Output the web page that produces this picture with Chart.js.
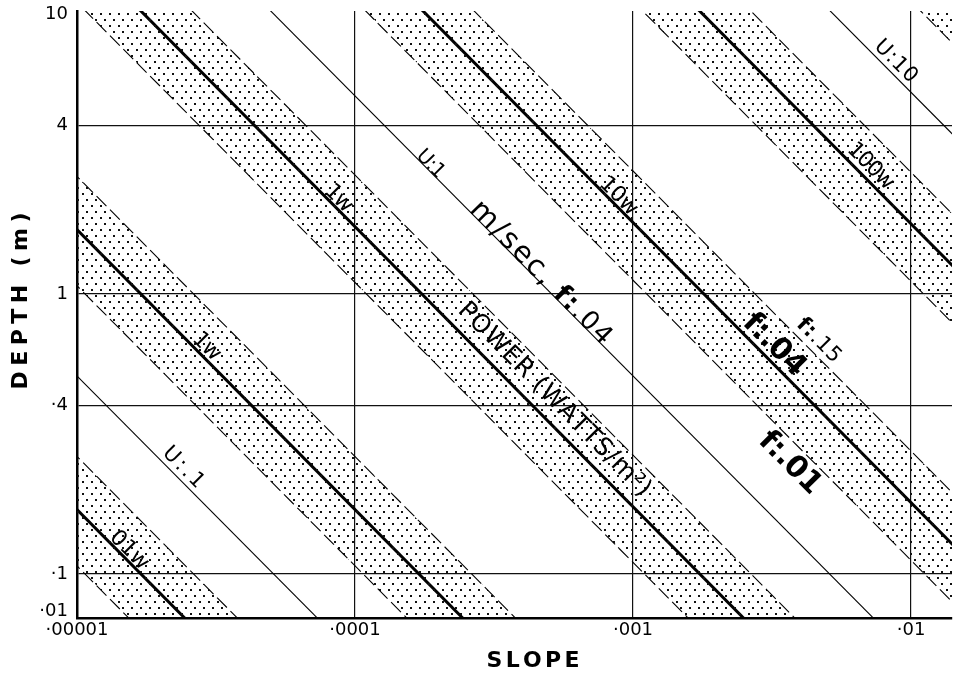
<!DOCTYPE html>
<html>
<head>
<meta charset="utf-8">
<script src="https://cdn.jsdelivr.net/npm/chart.js@4.4.0/dist/chart.umd.min.js"></script>
<style>
html,body{margin:0;padding:0;background:#fff;}
#wrap{width:964px;height:689px;position:relative;}
</style>
</head>
<body>
<div id="wrap"><canvas id="c" width="964" height="689"></canvas></div>
<script>
// ---------- axis ranges and ticks ----------
const xRange = [0.00001, 0.01404];
const yRange = [0.0697, 10.25];
const xTickValues = [0.00001, 0.0001, 0.001, 0.01];
const xTickLabels = ['·00001', '·0001', '·001', '·01'];
const yTickValues = [10, 4, 1, 0.4, 0.1, 0.0738];
const yTickLabels = ['10', '4', '1', '·4', '·1', '·01'];

// ---------- iso-lines: depth × slope (= slope where the line meets depth 1 m) ----------
const powerNames = ['01w', '1w', '1w', '10w', '100w', ''];
const powerF04 = [1.70e-6, 1.70e-5, 1.74e-4, 1.80e-3, 1.78e-2, 0.178];  // thick lines, f = .04
const powerF01 = [1.07e-6, 1.07e-5, 1.10e-4, 1.12e-3, 1.11e-2, 0.111];  // dashed band edge, f = .01
const powerF15 = [2.63e-6, 2.63e-5, 2.66e-4, 2.75e-3, 2.72e-2, 0.275];  // dashed band edge, f = .15
const velocityNames = ['U:.1', 'U:1', 'U:10'];
const velocityF04 = [5.1e-6, 5.1e-4, 5.25e-2];                          // thin lines, m/sec
const lineSlopeEnds = [1e-7, 1];

// ---------- stipple pattern ----------
function makeStipple() {
  const c = document.createElement('canvas');
  c.width = 9; c.height = 12;
  const g = c.getContext('2d');
  g.fillStyle = '#111';
  g.fillRect(1, 1, 2, 2);
  g.fillRect(5, 7, 2, 2);
  return g.createPattern(c, 'repeat');
}
const stipple = makeStipple();

function lineData(k) { return lineSlopeEnds.map(s => ({x: s, y: k / s})); }

const datasets = [];
powerF01.forEach((k, i) => {
  datasets.push({label: 'f=.01 #' + i, data: lineData(k), borderColor: '#000', borderWidth: 1.1,
    borderDash: [14, 5], pointRadius: 0, fill: false});
  datasets.push({label: 'f=.15 #' + i, data: lineData(powerF15[i]), borderColor: '#000', borderWidth: 1.1,
    borderDash: [14, 5], pointRadius: 0, fill: '-1', backgroundColor: stipple});
});
powerF04.forEach((k, i) => {
  datasets.push({label: 'power ' + powerNames[i], data: lineData(k), borderColor: '#000', borderWidth: 3,
    pointRadius: 0, fill: false});
});
velocityF04.forEach((k, i) => {
  datasets.push({label: velocityNames[i], data: lineData(k), borderColor: '#000', borderWidth: 1.1,
    pointRadius: 0, fill: false});
});

// ---------- in-plot labels (anchored in data units) ----------
const FONT = '"DejaVu Sans", sans-serif';
const annotations = [
  {parts: [[velocityNames[2], 'normal', 21]], at: [0.00891, 6.85], width: 52},
  {parts: [[powerNames[4], 'normal', 22]], at: [0.00724, 2.89], width: 57},
  {parts: [[powerNames[3], 'normal', 22]], at: [0.000897, 2.26], width: 45},
  {parts: [[velocityNames[1], 'normal', 20]], at: [0.000189, 2.94], width: 32},
  {parts: [['m/sec,', 'normal', 29], [' f:', 'bold', 26], ['.04', 'normal', 26]], at: [0.000474, 1.21], width: 190},
  {parts: [[powerNames[2], 'normal', 22]], at: [8.83e-5, 2.22], width: 30},
  {parts: [[powerNames[1], 'normal', 22]], at: [2.96e-5, 0.657], width: 31},
  {parts: [[powerNames[0], 'normal', 22]], at: [1.56e-5, 0.123], width: 46},
  {parts: [[velocityNames[0], 'normal', 21]], at: [2.44e-5, 0.243], width: 50},
  {parts: [['POWER (WATTS/m²)', 'normal', 25]], at: [0.000528, 0.425], width: 263},
  {parts: [['f:.04', 'bold', 30]], at: [0.00327, 0.668], width: 76},
  {parts: [['f:', 'bold', 21], ['.15', 'normal', 21]], at: [0.00471, 0.690], width: 54},
  {parts: [['f:.01', 'bold', 30]], at: [0.00373, 0.253], width: 76}
];

function drawSpaced(ctx, chars, total, sp) {
  let cx = -total / 2;
  for (const c of chars) { ctx.font = c.font; ctx.fillText(c.ch, cx, c.dy); cx += c.cw + sp; }
}

const labelPlugin = {
  id: 'inPlotLabels',
  afterDatasetsDraw(chart) {
    const {ctx} = chart;
    const x = chart.scales.x, y = chart.scales.y;
    const ang = Math.atan2(y.getPixelForValue(0.1) - y.getPixelForValue(1),
                           x.getPixelForValue(1e-3) - x.getPixelForValue(1e-4));
    ctx.save();
    ctx.fillStyle = '#000';
    ctx.textAlign = 'left';
    ctx.textBaseline = 'alphabetic';
    for (const a of annotations) {
      const chars = [];
      let base = 0, maxS = 0;
      for (const [t, w, s] of a.parts) maxS = Math.max(maxS, s);
      for (const [t, w, s] of a.parts) {
        ctx.font = `${w} ${s}px ${FONT}`;
        for (const ch of t) {
          const cw = ctx.measureText(ch).width;
          chars.push({ch, font: ctx.font, cw, dy: maxS * 0.36});
          base += cw;
        }
      }
      let sp = chars.length > 1 ? (a.width - base) / (chars.length - 1) : 0;
      sp = Math.max(sp, -1.5);
      const total = base + sp * (chars.length - 1);
      ctx.save();
      ctx.translate(x.getPixelForValue(a.at[0]), y.getPixelForValue(a.at[1]));
      ctx.rotate(ang);
      drawSpaced(ctx, chars, total, sp);
      ctx.restore();
    }
    // axis titles
    const titles = [
      {text: 'SLOPE', font: `bold 22px ${FONT}`, cx: 533, cy: 659, rot: 0, width: 93},
      {text: 'DEPTH (m)', font: `bold 22px ${FONT}`, cx: 19, cy: 301, rot: -Math.PI / 2, width: 177}
    ];
    for (const t of titles) {
      ctx.font = t.font;
      const chars = [];
      let base = 0;
      for (const ch of t.text) { const cw = ctx.measureText(ch).width; chars.push({ch, font: t.font, cw, dy: 8}); base += cw; }
      const sp = (t.width - base) / (chars.length - 1);
      ctx.save();
      ctx.translate(t.cx, t.cy);
      ctx.rotate(t.rot);
      drawSpaced(ctx, chars, t.width, sp);
      ctx.restore();
    }
    ctx.restore();
  }
};

const hidden = 'rgba(0,0,0,0)';
new Chart(document.getElementById('c'), {
  type: 'line',
  data: {datasets},
  options: {
    responsive: false,
    animation: false,
    events: [],
    layout: {padding: {top: 11, right: 12, bottom: 0, left: 0}},
    plugins: {legend: {display: false}, tooltip: {enabled: false}},
    scales: {
      x: {
        type: 'logarithmic', position: 'bottom', bounds: 'data',
        min: xRange[0], max: xRange[1],
        afterBuildTicks: s => { s.ticks = xTickValues.map(v => ({value: v})); },
        afterFit: s => { s.height = 71; s.paddingLeft = 0; s.paddingRight = 0; s.paddingTop = 0; s.paddingBottom = 0; },
        ticks: {autoSkip: false, maxRotation: 0, minRotation: 0, padding: 2, color: '#000',
          font: {family: 'DejaVu Sans', size: 18}, callback: (v, i) => xTickLabels[i]},
        grid: {drawTicks: false, lineWidth: 1.2,
          color: c => (c.tick && c.tick.value === xTickValues[0]) ? hidden : '#111'},
        border: {display: true, color: '#000', width: 2.5}
      },
      y: {
        type: 'logarithmic', position: 'left', bounds: 'data',
        min: yRange[0], max: yRange[1],
        afterBuildTicks: s => { s.ticks = yTickValues.map(v => ({value: v})); },
        afterFit: s => { s.width = 77; s.paddingLeft = 0; s.paddingRight = 0; s.paddingTop = 0; s.paddingBottom = 0; },
        ticks: {autoSkip: false, padding: 9, color: '#000',
          font: {family: 'DejaVu Sans', size: 18}, callback: (v, i) => yTickLabels[i]},
        grid: {drawTicks: false, lineWidth: 1.2,
          color: c => (c.tick && (c.tick.value === yTickValues[0] || c.tick.value === yTickValues[5])) ? hidden : '#111'},
        border: {display: true, color: '#000', width: 2.5}
      }
    }
  },
  plugins: [labelPlugin]
});
</script>
</body>
</html>
